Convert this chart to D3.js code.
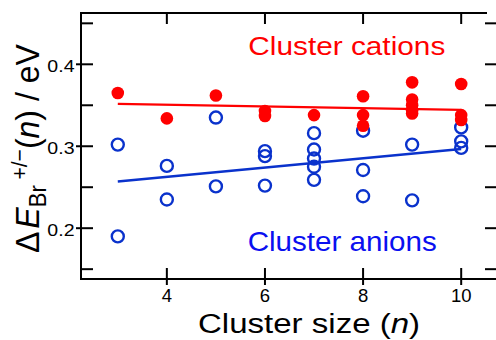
<!DOCTYPE html>
<html>
<head>
<meta charset="utf-8">
<script src="https://cdn.jsdelivr.net/npm/d3@7"></script>
<style>
  html, body { margin: 0; padding: 0; background: #fff; }
  svg { display: block; font-family: "Liberation Sans", Arial, sans-serif; }
</style>
</head>
<body>
<svg id="chart" width="496" height="340"></svg>
<script>
// ---- data ----
const sizes = [3, 4, 5, 6, 7, 8, 9, 10];
const cationValues = [
  [0.365],
  [0.334],
  [0.362],
  [0.343, 0.337],
  [0.338],
  [0.361, 0.338, 0.325],
  [0.378, 0.357, 0.350, 0.344, 0.340],
  [0.376, 0.338, 0.332]
];
const anionValues = [
  [0.302, 0.190],
  [0.276, 0.235],
  [0.335, 0.251],
  [0.294, 0.288, 0.252],
  [0.316, 0.296, 0.285, 0.275, 0.259],
  [0.319, 0.271, 0.239],
  [0.302, 0.234],
  [0.323, 0.306, 0.298]
];
const fitSizes = [3, 10];
const cationFit = [0.3516, 0.3443];
const anionFit = [0.2569, 0.2967];
const xTickValues = [4, 6, 8, 10];
const yMajorTicks = [0.2, 0.3, 0.4];
const yMinorTicks = [0.15, 0.25, 0.35, 0.45];
const yTickLabels = ["0.2", "0.3", "0.4"];

// ---- layout ----
const svg = d3.select("#chart");
const L = 81, R = 497, T = 13, B = 279;
const x = d3.scaleLinear().domain([2.25, 10.73]).range([L, R]);
const y = d3.scaleLinear().domain([0.138, 0.4626]).range([B, T]);
const RED = "#ff0000", BLUE = "#0a32cc";

// frame
const frame = svg.append("g").attr("stroke", "#000").attr("stroke-width", 2).attr("fill", "none");
frame.append("line").attr("x1", L).attr("x2", L).attr("y1", T - 1).attr("y2", B + 1);
frame.append("line").attr("x1", L - 1).attr("x2", R).attr("y1", B).attr("y2", B);
frame.append("line").attr("x1", L - 1).attr("x2", 487).attr("y1", T).attr("y2", T);

// ticks
const ticks = svg.append("g").attr("stroke", "#000").attr("stroke-width", 2);
yMajorTicks.forEach(v => {
  ticks.append("line").attr("x1", L - 5).attr("x2", L + 12).attr("y1", y(v)).attr("y2", y(v));
});
yMinorTicks.forEach(v => {
  ticks.append("line").attr("x1", L).attr("x2", L + 12).attr("y1", y(v)).attr("y2", y(v));
});
yMajorTicks.concat(yMinorTicks).forEach(v => {
  ticks.append("line").attr("x1", 485).attr("x2", R).attr("y1", y(v)).attr("y2", y(v));
});
xTickValues.forEach(v => {
  ticks.append("line").attr("x1", x(v)).attr("x2", x(v)).attr("y1", B - 11).attr("y2", B + 6);
  ticks.append("line").attr("x1", x(v)).attr("x2", x(v)).attr("y1", T).attr("y2", T + 11);
});

// tick labels
yMajorTicks.forEach((v, i) => {
  svg.append("text")
    .attr("transform", `translate(74.5,${y(v) + 7.4}) scale(1.15,1)`)
    .attr("text-anchor", "end").attr("font-size", 17).attr("fill", "#000")
    .text(yTickLabels[i]);
});
xTickValues.forEach(v => {
  svg.append("text")
    .attr("x", x(v)).attr("y", 302)
    .attr("text-anchor", "middle").attr("font-size", 18.5).attr("fill", "#000")
    .text(String(v));
});

// fit lines
const line = d3.line().x(d => x(d[0])).y(d => y(d[1]));
svg.append("path").datum(fitSizes.map((n, i) => [n, anionFit[i]]))
  .attr("d", line).attr("stroke", BLUE).attr("stroke-width", 2.4).attr("fill", "none");
svg.append("path").datum(fitSizes.map((n, i) => [n, cationFit[i]]))
  .attr("d", line).attr("stroke", RED).attr("stroke-width", 2.2).attr("fill", "none");

// points
const anionPts = [];
sizes.forEach((n, i) => anionValues[i].forEach(v => anionPts.push([n, v])));
const cationPts = [];
sizes.forEach((n, i) => cationValues[i].forEach(v => cationPts.push([n, v])));

svg.append("g").selectAll("circle").data(anionPts).join("circle")
  .attr("cx", d => x(d[0])).attr("cy", d => y(d[1])).attr("r", 6)
  .attr("fill", "none").attr("stroke", BLUE).attr("stroke-width", 2.4);
svg.append("g").selectAll("circle").data(cationPts).join("circle")
  .attr("cx", d => x(d[0])).attr("cy", d => y(d[1])).attr("r", 6.3)
  .attr("fill", RED);

// series labels
svg.append("text").attr("x", 248.3).attr("y", 55)
  .attr("font-size", 26).attr("fill", RED)
  .attr("textLength", 197).attr("lengthAdjust", "spacingAndGlyphs")
  .text("Cluster cations");
svg.append("text").attr("x", 247.7).attr("y", 250.7)
  .attr("font-size", 27.5).attr("fill", "#0a10f0")
  .attr("textLength", 189).attr("lengthAdjust", "spacingAndGlyphs")
  .text("Cluster anions");

// x axis title
const xt = svg.append("text")
  .attr("transform", "translate(198,333) scale(1.18,1)")
  .attr("font-size", 28).attr("fill", "#000");
xt.append("tspan").text("Cluster size (");
xt.append("tspan").attr("font-style", "italic").text("n");
xt.append("tspan").text(")");

// y axis title
const yt = svg.append("text")
  .attr("transform", "translate(39,253) rotate(-90) scale(1,1.05)")
  .attr("font-size", 32).attr("fill", "#000");
yt.append("tspan").text("\u0394");
yt.append("tspan").attr("font-style", "italic").attr("dx", 3).text("E");
yt.append("tspan").attr("font-size", 22).attr("dy", 7).text("Br");
yt.append("tspan").attr("font-size", 21).attr("dy", -18).text(" +/\u2212");
yt.append("tspan").attr("dy", 11).text("(");
yt.append("tspan").attr("font-style", "italic").text("n");
yt.append("tspan").text(") / eV");
</script>
</body>
</html>
